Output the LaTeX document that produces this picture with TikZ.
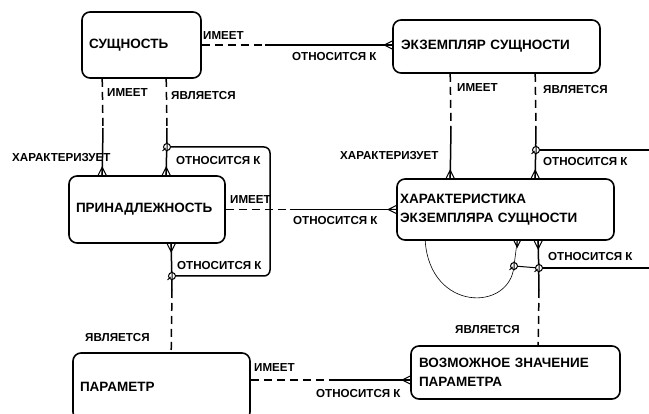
\documentclass[tikz,border=0pt]{standalone}
\usepackage{fontspec}
\setmainfont{Liberation Sans}
\usetikzlibrary{calc}
\begin{document}
\begin{tikzpicture}[x=1pt,y=-1pt,
  ent/.style={draw, line width=1.6pt, rounded corners=8pt, align=left,
    font=\bfseries\fontsize{13.5}{19}\selectfont, inner ysep=2pt},
  lbl/.style={anchor=west, inner sep=0pt, font=\bfseries\fontsize{11.6}{13}\selectfont},
  sol/.style={line width=1.5pt},
  dsh/.style={line width=1.5pt, dash pattern=on 8pt off 5pt},
  thinline/.style={line width=0.6pt},
  crow/.pic={\draw[line width=1pt] (-4pt,0pt) -- (0pt,8pt) -- (4pt,0pt) (0pt,0pt) -- (0pt,8pt);},
  zc/.pic={\draw[line width=1pt, fill=white] (0pt,0pt) circle (3.5pt);
           \draw[line width=1pt] (0pt,-4.5pt) -- (0pt,4.5pt) (-4.5pt,-4pt) -- (-1.5pt,-1pt);}
]
\useasboundingbox (0,0) rectangle (649,414);
\fill[white] (0,0) rectangle (649,414);

% entities
\node[ent, minimum width=119pt, minimum height=66pt, text width=105pt, inner xsep=7pt] (sush) at (141.5,45) {СУЩНОСТЬ};
\node[ent, minimum width=207pt, minimum height=53pt, text width=191pt, inner xsep=8pt] (ekz) at (496.5,46.5) {ЭКЗЕМПЛЯР СУЩНОСТИ};
\node[ent, minimum width=156pt, minimum height=67pt, text width=142pt, inner xsep=7pt] (prin) at (147,209.5) {ПРИНАДЛЕЖНОСТЬ};
\node[ent, minimum width=217pt, minimum height=61pt, text width=211pt, inner xsep=3pt] (hark) at (505.5,209.5) {ХАРАКТЕРИСТИКА\\ЭКЗЕМПЛЯРА СУЩНОСТИ};
\node[ent, minimum width=177pt, minimum height=67pt, text width=163pt, inner xsep=7pt] (param) at (161.5,386.5) {ПАРАМЕТР};
\node[ent, minimum width=209pt, minimum height=53pt, text width=193pt, inner xsep=8pt] (vozm) at (515.5,372.5) {ВОЗМОЖНОЕ ЗНАЧЕНИЕ\\ПАРАМЕТРА};

% helper coordinates
\coordinate (m1) at (265,45);
\coordinate (m2) at (103,128);
\coordinate (m3) at (167,128);
\coordinate (m5) at (172,290);
\coordinate (m6) at (290,209.5);
\coordinate (m7) at (451,128);
\coordinate (m8) at (536,128);
\coordinate (m9) at (539,290);
\coordinate (m10) at (330,380);
\coordinate (z1) at (167,147);
\coordinate (z2) at (172,276);
\coordinate (z3) at (536,150);
\coordinate (z4) at (539,268);
\coordinate (z5) at (514,266);
\coordinate (lp1) at (270,147);
\coordinate (lp2) at (270,276);
\coordinate (e1) at (649,150);
\coordinate (e2) at (649,268);

% 1: СУЩНОСТЬ - ЭКЗЕМПЛЯР
\draw[dsh] (sush.east) -- (m1);
\draw[sol] (m1) -- (sush.east -| ekz.west);
\pic[rotate=90] at (sush.east -| ekz.west) {crow};

% 2, 3: СУЩНОСТЬ - ПРИНАДЛЕЖНОСТЬ
\draw[dsh] ([xshift=21pt]sush.south west) -- (m2);
\draw[sol] (m2) -- ([xshift=34pt]prin.north west);
\pic at ([xshift=34pt]prin.north west) {crow};
\draw[dsh] ([xshift=85pt]sush.south west) -- (m3);
\draw[sol] (m3) -- ([xshift=98pt]prin.north west);
\pic at ([xshift=98pt]prin.north west) {crow};

% loop around ПРИНАДЛЕЖНОСТЬ
\draw[sol, rounded corners=6pt] (z1) -- (lp1) -- (lp2) -- (z2);

% 5: ПРИНАДЛЕЖНОСТЬ - ПАРАМЕТР
\draw[sol] ([xshift=103pt]prin.south west) -- (m5);
\draw[dsh] (m5) -- ([xshift=99pt]param.north west);
\pic[rotate=180] at ([xshift=103pt]prin.south west) {crow};

% 6: ПРИНАДЛЕЖНОСТЬ - ХАРАКТЕРИСТИКА
\draw[dsh] (prin.east) -- (m6);
\draw[sol] (m6) -- (prin.east -| hark.west);
\pic[rotate=90] at (prin.east -| hark.west) {crow};

% 7, 8: ЭКЗЕМПЛЯР - ХАРАКТЕРИСТИКА
\draw[dsh] ([xshift=58pt]ekz.south west) -- (m7);
\draw[sol] (m7) -- ([xshift=54pt]hark.north west);
\pic at ([xshift=54pt]hark.north west) {crow};
\draw[dsh] ([xshift=143pt]ekz.south west) -- (m8);
\draw[sol] (m8) -- ([xshift=139pt]hark.north west);
\pic at ([xshift=139pt]hark.north west) {crow};
\draw[sol] (z3) -- (e1);

% 9: ХАРАКТЕРИСТИКА - ВОЗМОЖНОЕ ЗНАЧЕНИЕ
\draw[sol] ([xshift=142pt]hark.south west) -- (m9);
\draw[dsh] (m9) -- ([xshift=128pt]vozm.north west);
\pic[rotate=180] at ([xshift=142pt]hark.south west) {crow};
\draw[sol] (z4) -- (e2);

% 10: ПАРАМЕТР - ВОЗМОЖНОЕ ЗНАЧЕНИЕ
\draw[dsh] ([yshift=6.5pt]param.east) -- (m10);
\draw[sol] (m10) -- (m10 -| vozm.west);
\pic[rotate=90] at (m10 -| vozm.west) {crow};

% 11: recursive arc on ХАРАКТЕРИСТИКА
\draw[thinline] ([xshift=29pt]hark.south west) .. controls (430,312) and (510,312) .. (z5) -- ([xshift=121pt]hark.south west);
\pic[rotate=180, scale=0.8] at ([xshift=121pt]hark.south west) {crow};
\draw[line width=1pt] (z5) -- (z4);

% zero-or-one circles
\pic at (z1) {zc};
\pic at (z2) {zc};
\pic at (z3) {zc};
\pic at (z4) {zc};
\pic at (z5) {zc};

% labels
\node[lbl] (l1) at (203,36) {ИМЕЕТ};
\node[lbl] (l2) at (292,57) {ОТНОСИТСЯ К};
\node[lbl] (l3) at (107,93) {ИМЕЕТ};
\node[lbl] (l4) at (171,96) {ЯВЛЯЕТСЯ};
\node[lbl] (l5) at (12,158) {ХАРАКТЕРИЗУЕТ};
\node[lbl] (l6) at (176,161) {ОТНОСИТСЯ К};
\node[lbl] (l7) at (230,200) {ИМЕЕТ};
\node[lbl] (l8) at (293,221) {ОТНОСИТСЯ К};
\node[lbl] (l9) at (177,266) {ОТНОСИТСЯ К};
\node[lbl] (l10) at (85,338) {ЯВЛЯЕТСЯ};
\node[lbl] (l11) at (254,368) {ИМЕЕТ};
\node[lbl] (l12) at (316,394) {ОТНОСИТСЯ К};
\node[lbl] (l13) at (457,88) {ИМЕЕТ};
\node[lbl] (l14) at (543,90) {ЯВЛЯЕТСЯ};
\node[lbl] (l15) at (340,156) {ХАРАКТЕРИЗУЕТ};
\node[lbl] (l16) at (543,162) {ОТНОСИТСЯ К};
\node[lbl] (l17) at (548,257) {ОТНОСИТСЯ К};
\node[lbl] (l18) at (455,330) {ЯВЛЯЕТСЯ};
\end{tikzpicture}
\end{document}
